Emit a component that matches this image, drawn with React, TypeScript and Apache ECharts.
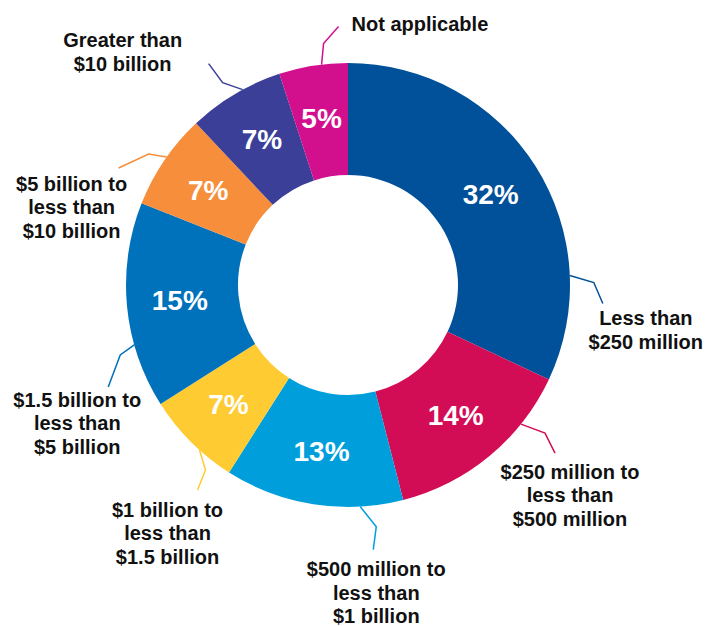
import React, { useEffect, useRef } from "react";
import * as echarts from "echarts";

const categories = [
  "Less than\n$250 million",
  "$250 million to\nless than\n$500 million",
  "$500 million to\nless than\n$1 billion",
  "$1 billion to\nless than\n$1.5 billion",
  "$1.5 billion to\nless than\n$5 billion",
  "$5 billion to\nless than\n$10 billion",
  "Greater than\n$10 billion",
  "Not applicable",
];
const shares = [32, 14, 13, 7, 15, 7, 7, 5];
const colors = [
  "#00509a",
  "#d30c56",
  "#009fdc",
  "#fecb33",
  "#0071bb",
  "#f68e3b",
  "#3b3f98",
  "#d2108d",
];

// Leader-line guides: where on the slice's arc the line starts (fraction of slice),
// relative elbow / end offsets, and label offset from the line end.
const guides: any[] = [
  { at: 0.76, elbow: [24, 7], end: [9, 21], label: [43, 3], align: "center", va: "top" },
  { at: 0.27, elbow: [24, 9], end: [10, 20], label: [15, 7], align: "center", va: "top" },
  { at: 0.24, elbow: [16, 20], end: [-3, 23], label: [3, 8], align: "center", va: "top" },
  { at: 0.38, elbow: [6, 20], end: [-8, 20], label: [-30, 8], align: "center", va: "top" },
  { at: 0.31, elbow: [-14, 10], end: [-12, 32], label: [-31, 1], align: "center", va: "top" },
  { at: 0.54, elbow: [-18, -3], end: [-30, 14], label: [-47, 4], align: "center", va: "top" },
  { at: 0.59, elbow: [-20, -7], end: [-14, -19], label: [-86, -35], align: "center", va: "top" },
  { at: 0.62, elbow: [2, -21], end: [15, -17], label: [13, -3], align: "left", va: "middle" },
];

const CX = 348;
const CY = 285;
const R_IN = 110;
const R_OUT = 222;
const FONT = "'Liberation Sans', Arial, Helvetica, sans-serif";

export default function App() {
  const ref = useRef<HTMLDivElement>(null);

  useEffect(() => {
    if (!ref.current) return;
    const chart = echarts.init(ref.current, undefined, { renderer: "svg" });
    const total = shares.reduce((a, b) => a + b, 0);
    const starts: number[] = [];
    let cum = 0;
    shares.forEach((v) => {
      starts.push(cum);
      cum += v;
    });
    const data = categories.map((name, i) => ({
      name,
      value: shares[i],
      itemStyle: { color: colors[i] },
    }));

    chart.setOption({
      animation: false,
      backgroundColor: "#ffffff",
      series: [
        {
          type: "pie",
          center: [CX, CY],
          radius: [R_IN, R_OUT],
          startAngle: 90,
          clockwise: true,
          avoidLabelOverlap: false,
          data,
          label: {
            show: true,
            position: "outside",
            formatter: "{b}",
            color: "#111111",
            fontFamily: FONT,
            fontWeight: "bold",
            fontSize: 20,
            lineHeight: 23.5,
            align: "center",
          },
          labelLine: {
            show: true,
            length: 10,
            length2: 10,
            smooth: false,
            lineStyle: { width: 1.5 },
          },
          labelLayout: (params: any) => {
            const i = params.dataIndex;
            const g = guides[i];
            const theta = ((starts[i] + shares[i] * g.at) / total) * Math.PI * 2;
            const ax = CX + R_OUT * Math.sin(theta);
            const ay = CY - R_OUT * Math.cos(theta);
            const ex = ax + g.elbow[0];
            const ey = ay + g.elbow[1];
            const tx = ex + g.end[0];
            const ty = ey + g.end[1];
            return {
              x: tx + g.label[0],
              y: ty + g.label[1],
              align: g.align,
              verticalAlign: g.va,
              labelLinePoints: [
                [ax, ay],
                [ex, ey],
                [tx, ty],
              ],
            };
          },
          emphasis: { disabled: true },
        },
        {
          type: "pie",
          center: [CX, CY],
          radius: [R_IN, R_OUT],
          startAngle: 90,
          clockwise: true,
          silent: true,
          z: 3,
          data: categories.map((name, i) => ({
            name,
            value: shares[i],
            itemStyle: { color: "rgba(0,0,0,0)" },
          })),
          label: {
            show: true,
            position: "inside",
            formatter: "{c}%",
            color: "#ffffff",
            fontFamily: FONT,
            fontWeight: "bold",
            fontSize: 28,
          },
          labelLine: { show: false },
          emphasis: { disabled: true },
        },
      ],
    });
    return () => chart.dispose();
  }, []);

  return (
    <div
      ref={ref}
      style={{ position: "absolute", left: 0, top: 0, width: 706, height: 626 }}
    />
  );
}
